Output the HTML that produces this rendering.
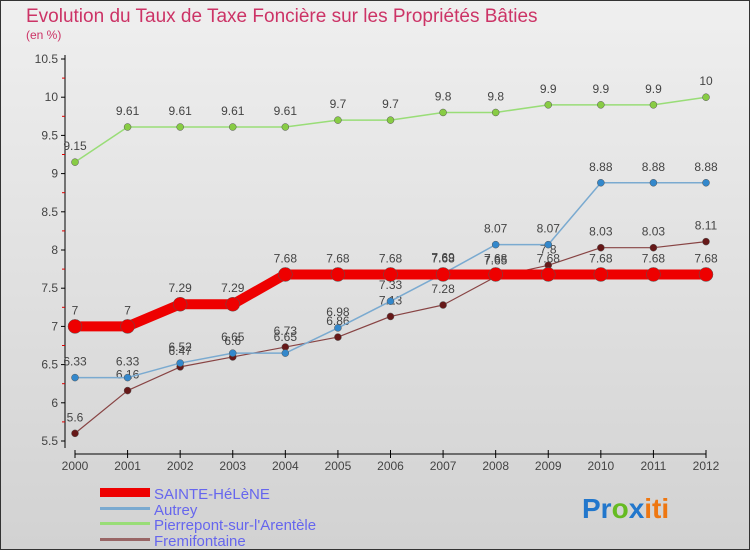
<!DOCTYPE html>
<html><head><meta charset="utf-8"><style>
body{margin:0;width:750px;height:550px;overflow:hidden;font-family:"Liberation Sans",sans-serif}
#c{position:absolute;left:0;top:0;width:748px;height:548px;border:1px solid #333;background:linear-gradient(#efefef,#d2d2d2)}
</style></head><body>
<div id="c"></div>
<svg id="s" width="750" height="550" style="position:absolute;left:0;top:0">
<text x="26" y="22" font-size="19" fill="#cc3366">Evolution du Taux de Taxe Foncière sur les Propriétés Bâties</text>
<text x="26" y="39" font-size="12" fill="#cc3366">(en %)</text>
<g id="axes"></g><g id="series"></g>
<g>
<rect x="100" y="488" width="50" height="9" fill="#e00"/>
<text x="154" y="499" font-size="15" fill="#6666ee">SAINTE-HéLèNE</text>
<rect x="100" y="507" width="50" height="3" fill="#7aaad0"/>
<text x="154" y="515" font-size="15" fill="#6666ee">Autrey</text>
<rect x="100" y="522" width="50" height="3" fill="#99dd77"/>
<text x="154" y="530" font-size="15" fill="#6666ee">Pierrepont-sur-l'Arentèle</text>
<rect x="100" y="538" width="50" height="3" fill="#996666"/>
<text x="154" y="546" font-size="15" fill="#6666ee">Fremifontaine</text>
</g>
<text x="582" y="518" font-size="28" font-weight="bold"><tspan fill="#2277cc">Pr</tspan><tspan fill="#66bb22">o</tspan><tspan fill="#2277cc">x</tspan><tspan fill="#ee7711">iti</tspan></text>
</svg>
<script>
const years=[2000,2001,2002,2003,2004,2005,2006,2007,2008,2009,2010,2011,2012];
const yTicks=[5.5,6,6.5,7,7.5,8,8.5,9,9.5,10,10.5];
const sainteHelene=[7,7,7.29,7.29,7.68,7.68,7.68,7.68,7.68,7.68,7.68,7.68,7.68];
const autrey=[6.33,6.33,6.52,6.65,6.65,6.98,7.33,7.69,8.07,8.07,8.88,8.88,8.88];
const pierrepont=[9.15,9.61,9.61,9.61,9.61,9.7,9.7,9.8,9.8,9.9,9.9,9.9,10];
const fremifontaine=[5.6,6.16,6.47,6.6,6.73,6.86,7.13,7.28,7.65,7.8,8.03,8.03,8.11];
const NS='http://www.w3.org/2000/svg';
const X=i=>75+i*(706-75)/(years.length-1);
const Y=v=>441-(v-5.5)*(441-59)/(10.5-5.5);
function mk(t,a,p){const e=document.createElementNS(NS,t);for(const k in a)e.setAttribute(k,a[k]);p.appendChild(e);return e;}
const ax=document.getElementById('axes');
mk('line',{x1:65,y1:55,x2:65,y2:448,stroke:'#000','stroke-width':1},ax);
mk('line',{x1:75,y1:454,x2:706,y2:454,stroke:'#000','stroke-width':1},ax);
yTicks.forEach((v,i)=>{
 mk('line',{x1:61,y1:Y(v),x2:65,y2:Y(v),stroke:'#000'},ax);
 if(i<yTicks.length-1)mk('line',{x1:62,y1:(Y(v)+Y(yTicks[i+1]))/2,x2:65,y2:(Y(v)+Y(yTicks[i+1]))/2,stroke:'#d00'},ax);
 const t=mk('text',{x:58,y:Y(v)+4,'font-size':12,'text-anchor':'end',fill:'#444'},ax);
 
 
 t.textContent=v;
});
years.forEach((yr,i)=>{
 mk('line',{x1:X(i),y1:450,x2:X(i),y2:458,stroke:'#000'},ax);
 const t=mk('text',{x:X(i),y:470,'font-size':12,'text-anchor':'middle',fill:'#444'},ax);
 
 
 t.textContent=yr;
});
const sg=document.getElementById('series');
function draw(vals,color,w,r,dot,name){
 const g=mk('g',{},sg);
 
 
 mk('polyline',{points:vals.map((v,i)=>X(i)+','+Y(v)).join(' '),fill:'none',stroke:color,'stroke-width':w,'stroke-linejoin':'round'},g);
 vals.forEach((v,i)=>{
  const c=mk('circle',{cx:X(i),cy:Y(v),r:r,fill:dot,stroke:'#555','stroke-width':0.5},g);
  
  
  const t=mk('text',{x:X(i),y:Y(v)-12,'font-size':12,'text-anchor':'middle',fill:'#444'},g);
  
  
  t.textContent=v;
 });
}
draw(pierrepont,'#99dd77',1.5,3.5,'#88cc44','pierrepont-series');
draw(fremifontaine,'#884444',1.2,3.5,'#661818','fremifontaine-series');
draw(autrey,'#7aaad0',1.5,3.5,'#3388cc','autrey-series');
draw(sainteHelene,'#ee0000',10,7,'#ee0000','sainte-helene-series');
</script>
</body></html>
